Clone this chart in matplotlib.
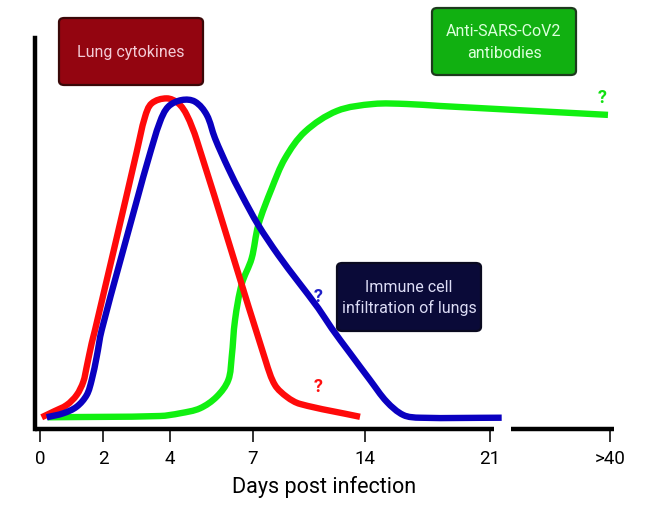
import numpy as np
import matplotlib
matplotlib.use("Agg")
import matplotlib.pyplot as plt
from matplotlib.patches import FancyBboxPatch, PathPatch
from matplotlib.path import Path
from matplotlib.transforms import IdentityTransform

plt.rcParams['font.family'] = ['Roboto', 'DejaVu Sans']

# ---- data (days post infection, relative level) ----
tick_days = [0, 2, 4, 7, 14, 21, 40]
tick_labels = ["0", "2", "4", "7", "14", "21", ">40"]

cyto_days = [0.054, 0.422, 0.848, 1.165, 1.375, 1.483, 1.640, 1.746, 2.707, 3.006, 3.254, 3.454,
             3.901, 4.300, 4.604, 4.965, 7.8125, 8.375, 9.125, 9.938, 13.688]
cyto_vals = [3.55, 5.24, 7.27, 10.3, 14.33, 18.88, 25.97, 30.0, 70.9, 84.0, 94.6, 98.7,
             100.2, 98.7, 95.2, 87.6, 20.3, 13.3, 9.7, 7.6, 3.7]

immune_days = [0.213, 0.740, 1.165, 1.483, 1.641, 1.800, 1.959, 3.054, 3.36, 3.701, 3.949, 4.423,
               4.904, 5.327, 5.627, 6.108, 6.592, 7.331, 8.581, 9.831, 11.08, 11.92, 13.06,
               14.28, 15.215, 16.145, 17.08, 22.85]
immune_vals = [3.55, 4.76, 6.76, 10.3, 14.85, 21.9, 30.0, 70.9, 82.0, 93.1, 97.7, 99.7,
               99.2, 95.2, 88.1, 79.0, 70.9, 61.8, 52.7, 44.6, 36.6, 30.5, 23.0,
               14.85, 8.27, 4.24, 3.42, 3.42]

ab_days = [0.254, 3.701, 4.361, 5.084, 5.688, 6.108, 6.231, 6.350, 6.592, 6.951, 7.331, 8.169,
           9.0, 10.25, 12.25, 14.465, 16.335, 18.2, 39.68]
ab_vals = [3.55, 3.94, 4.76, 6.27, 9.79, 14.85, 21.9, 33.0, 43.9, 51.7, 61.8, 72.9,
           82.0, 90.1, 96.4, 98.5, 98.5, 97.9, 95.2]

# ---- custom day scale (non-linear axis, as in the reference) ----
knot_days = np.array([-10, 0, 2, 4, 7, 14, 21, 40, 100], dtype=float)
knot_pos = np.array([-315, 0, 63, 130, 213, 325, 450, 570, 570 + 60 * 6.3])

def fwd(d):
    return np.interp(d, knot_days, knot_pos)

def inv(p):
    return np.interp(p, knot_pos, knot_days)

fig = plt.figure(figsize=(6.66, 5.13), dpi=100)
W, H = 666, 513
ax = fig.add_axes([35 / W, (H - 429) / H, (614 - 35) / W, (429 - 38) / H])
ax.set_xscale('function', functions=(fwd, inv))
ax.set_xlim(inv(-5), inv(574))
ax.set_ylim(0, 118.5)


def smooth_curve(xs, ys, color, z):
    """Join the read points with tangent-continuous Bezier segments (display space)."""
    P = ax.transData.transform(np.column_stack([xs, ys]))
    n = len(P)
    T = np.zeros_like(P)
    for i in range(n):
        a = P[max(i - 1, 0)]
        b = P[min(i + 1, n - 1)]
        v = b - a
        T[i] = v / (np.hypot(*v) + 1e-9)
    verts = [P[0]]
    codes = [Path.MOVETO]
    for i in range(n - 1):
        L = np.hypot(*(P[i + 1] - P[i])) / 3.0
        verts += [P[i] + T[i] * L, P[i + 1] - T[i + 1] * L, P[i + 1]]
        codes += [Path.CURVE4] * 3
    patch = PathPatch(Path(verts, codes), facecolor='none', edgecolor=color, lw=4.6,
                      capstyle='butt', joinstyle='round', transform=IdentityTransform(), zorder=z)
    ax.add_patch(patch)


smooth_curve(ab_days, ab_vals, '#11f011', 3)
smooth_curve(cyto_days, cyto_vals, '#ff0a0a', 4)
smooth_curve(immune_days, immune_vals, '#0a00c0', 5)

# spines
for s in ['top', 'right', 'bottom']:
    ax.spines[s].set_visible(False)
ax.spines['left'].set_linewidth(3.2)
ax.spines['left'].set_color('black')
ax.plot([0, 0.793], [0, 0], transform=ax.transAxes, color='black', lw=3.2, clip_on=False, solid_capstyle='butt')
ax.plot([0.822, 1.0], [0, 0], transform=ax.transAxes, color='black', lw=3.2, clip_on=False, solid_capstyle='butt')

ax.set_yticks([])
ax.set_xticks(tick_days)
ax.set_xticklabels(tick_labels, fontsize=13.5)
ax.tick_params(axis='x', length=9, width=1.3, color='#222222', pad=6, direction='out')
ax.set_xlabel("Days post infection", fontsize=15.5, labelpad=6)

# question marks
def fig_text(px, py, s, **kw):
    fig.text(px / W, 1 - py / H, s, ha='center', va='center', **kw)

fig_text(602, 98, "?", color='#11e011', fontsize=13, fontweight='bold')
fig_text(318, 297, "?", color='#2020c8', fontsize=13, fontweight='bold')
fig_text(318, 387, "?", color='#ff1010', fontsize=13, fontweight='bold')

# label boxes
def box(x0, y0, x1, y1, fc, ec, lines, tc):
    p = FancyBboxPatch((x0 / W, 1 - y1 / H), (x1 - x0) / W, (y1 - y0) / H,
                       boxstyle="round,pad=0,rounding_size=0.008",
                       transform=fig.transFigure, facecolor=fc, edgecolor=ec, lw=1.6, zorder=10)
    fig.patches.append(p)
    cx = (x0 + x1) / 2
    for txt, ty in lines:
        fig.text(cx / W, 1 - ty / H, txt, ha='center', va='center', color=tc, fontsize=11.5, zorder=11)

box(59, 18, 203, 85, '#930510', '#3a0808', [("Lung cytokines", 52)], '#f3ccd6')
box(432, 8, 576, 75, '#11b011', '#1d3a1d', [("Anti-SARS-CoV2", 32), ("antibodies", 53)], '#dcffdc')
box(337, 263, 481, 331, '#0a0a38', '#0a0a20', [("Immune cell", 287), ("infiltration of lungs", 308)], '#dcdcf5')

fig.savefig("out.png", dpi=100)
